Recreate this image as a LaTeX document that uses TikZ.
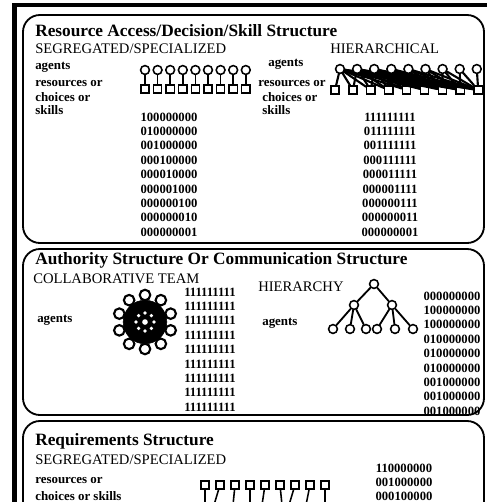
\documentclass[tikz,border=0pt]{standalone}
\usepackage{fontspec}
\setmainfont{Liberation Serif}
\usetikzlibrary{positioning}

\begin{document}
\begin{tikzpicture}[x=0.025cm,y=-0.025cm,line cap=round,
  agent/.style={draw,circle,line width=1.1pt,inner sep=0pt,minimum size=6.3pt,fill=white},
  res/.style={draw,rectangle,line width=1.1pt,inner sep=0pt,minimum size=5.8pt,fill=white},
  panel/.style={draw,line width=1.3pt,rounded corners=12pt},
  ttl/.style={anchor=west,inner sep=0pt,font=\fontsize{12.3}{12}\selectfont\bfseries},
  sub/.style={anchor=west,inner sep=0pt,font=\fontsize{10.4}{10}\selectfont},
  lbl/.style={anchor=west,inner sep=0pt,font=\fontsize{9.2}{9}\selectfont\bfseries},
  bits/.style={inner sep=0pt,font=\fontsize{9}{8}\selectfont\bfseries},
  link/.style={line width=1.1pt}]
\useasboundingbox (0,0) rectangle (487,502);
\clip (0,0) rectangle (487,502);
% frame
\draw[line width=3.5pt] (14.5,502) -- (14.5,5) -- (487,5);
\draw[panel] (23,15) rectangle (484,243);
\draw[panel] (23,249) rectangle (484,415);
\draw[panel] (23,421) rectangle (484,540);

% resource access / decision / skill
\node[ttl] (t1) at (35,31) {Resource Access/Decision/Skill Structure};
\node[sub] (segA) at (35,49) {SEGREGATED/SPECIALIZED};
\node[sub] (hierA) at (330,49) {HIERARCHICAL};
\node[lbl] (sagt) at (35,67) {agents};
\node[lbl] (sres) at (35,84) {resources or};
\node[lbl] (scho) at (35,97) {choices or};
\node[lbl] (sskl) at (35,110) {skills};
\node[lbl] (hagt) at (268,64) {agents};
\node[lbl] (hres) at (258,84) {resources or};
\node[lbl] (hcho) at (262,97) {choices or};
\node[lbl] (hskl) at (262,110) {skills};
\foreach \i in {1,...,9} {
  \node[agent] (sa\i) at ({145+12.6*(\i-1)},70) {};
  \node[res] (sr\i) at ({145+12.6*(\i-1)},89) {};
  \draw[link] (sa\i) -- (sr\i);
  \node[res] (hr\i) at ({335+17.9*(\i-1)},90) {};
}
\foreach \i in {1,...,9}
  \foreach \j in {\i,...,9}
    \draw[link,line width=1.5pt] ({340+17.1*(\i-1)},69) -- (hr\j);
\foreach \i in {1,...,9}
  \node[agent] (ha\i) at ({340+17.1*(\i-1)},69) {};
\foreach \r [count=\k from 0] in {100000000,010000000,001000000,000100000,000010000,000001000,000000100,000000010,000000001}
  \node[bits] (sm\k) at (169,{117+14.4*\k}) {\r};
\foreach \r [count=\k from 0] in {111111111,011111111,001111111,000111111,000011111,000001111,000000111,000000011,000000001}
  \node[bits] (hm\k) at (390,{117+14.4*\k}) {\r};

% authority / communication
\node[ttl] (t2) at (35,260) {Authority Structure Or Communication Structure};
\node[sub] (colB) at (33,279) {COLLABORATIVE TEAM};
\node[sub] (hierB) at (258,287) {HIERARCHY};
\node[lbl] (cagt) at (37,320) {agents};
\node[lbl] (tagt) at (262,323) {agents};
\node[draw,circle,fill=black,minimum size=31pt,inner sep=0pt] (hub) at (145,322) {};
\foreach \k in {1,...,10}
  \path (hub) ++({90-36*\k}:27) node[agent,line width=1.5pt,minimum size=7.5pt] (sp\k) {};
\foreach \k in {1,...,8}
  \path (hub) ++({45*\k}:9) node[circle,fill=white,inner sep=0pt,minimum size=2.6pt] (dt\k) {};
\node[circle,fill=white,inner sep=0pt,minimum size=4pt] (mid) at (hub) {};
\foreach \r [count=\k from 0] in {111111111,111111111,111111111,111111111,111111111,111111111,111111111,111111111,111111111}
  \node[bits] (cm\k) at (210,{292+14.4*\k}) {\r};
% tree
\node[agent] (n1) at (374,284) {};
\node[agent] (n2) at (354,305) {};
\node[agent] (n3) at (392,305) {};
\node[agent] (n4) at (333,329) {};
\node[agent] (n5) at (350,329) {};
\node[agent] (n6) at (366,329) {};
\node[agent] (n7) at (377,329) {};
\node[agent] (n8) at (395,329) {};
\node[agent] (n9) at (413,329) {};
\draw[link,line width=1.3pt] (n1) -- (n2) (n1) -- (n3);
\draw[link,line width=1.3pt] (n2) -- (n4) (n2) -- (n5) (n2) -- (n6);
\draw[link,line width=1.3pt] (n3) -- (n7) (n3) -- (n8) (n3) -- (n9);
\foreach \r [count=\k from 0] in {000000000,100000000,100000000,010000000,010000000,010000000,001000000,001000000,001000000}
  \node[bits] (tm\k) at (452,{296+14.4*\k}) {\r};

% requirements
\node[ttl] (t3) at (35,441) {Requirements Structure};
\node[sub] (segC) at (35,460) {SEGREGATED/SPECIALIZED};
\node[lbl] (rres) at (35,481) {resources or};
\node[lbl] (rcho) at (35,496) {choices or skills};
\foreach \i/\dx in {1/0,2/-6,3/-2,4/0,5/-3,6/2,7/-6,8/-4,9/0} {
  \node[res] (rq\i) at ({205+15*(\i-1)},485) {};
  \coordinate (rt\i) at ({205+15*(\i-1)+\dx},505);
  \draw[link] (rq\i) -- (rt\i);
}
\foreach \r [count=\k from 0] in {110000000,001000000,000100000}
  \node[bits] (qm\k) at (404,{468+14.2*\k}) {\r};
\end{tikzpicture}
\end{document}
